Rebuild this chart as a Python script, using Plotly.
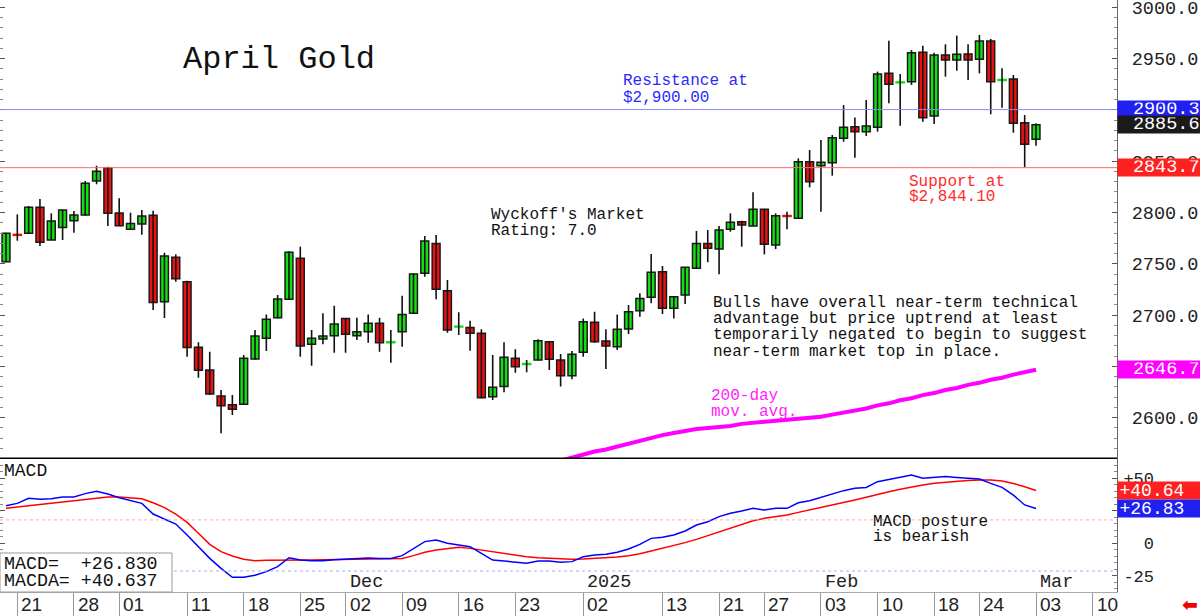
import plotly.graph_objects as go

# ---------------- data ----------------
# daily candles, Oct 18 2024 .. Mar 3 2025 (trading days, index 0..91)
open_ = [2752.1, 2778.4, 2779.7, 2805.0, 2773.2, 2785.5, 2792.0, 2797.6, 2830.7, 2843.7,
         2799.5, 2783.6, 2788.8, 2797.2, 2713.1, 2756.3, 2732.6, 2668.6, 2646.5, 2621.2,
         2612.7, 2613.0, 2657.2, 2677.4, 2697.5, 2715.4, 2755.3, 2671.5, 2676.7, 2679.9,
         2696.8, 2679.9, 2683.8, 2692.0, 2673.1, 2683.8, 2701.7, 2740.7, 2769.9, 2723.8,
         2688.4, 2688.0, 2682.2, 2620.5, 2630.3, 2657.9, 2652.0, 2656.2, 2674.1, 2656.2,
         2641.0, 2663.7, 2693.0, 2674.8, 2669.2, 2686.5, 2704.3, 2717.3, 2742.3, 2706.6,
         2719.6, 2745.6, 2769.9, 2764.4, 2783.6, 2791.1, 2786.8, 2803.1, 2768.3, 2796.9,
         2794.3, 2849.5, 2845.6, 2848.5, 2872.3, 2883.6, 2878.8, 2883.0, 2935.6, 2926.5,
         2927.5, 2956.1, 2894.0, 2953.5, 2948.6, 2954.5, 2949.3, 2967.1, 2928.8, 2930.1,
         2887.5, 2871.3]
high = [2780.3, 2798.2, 2806.3, 2813.2, 2799.2, 2802.6, 2801.5, 2830.7, 2845.6, 2844.7,
        2813.8, 2799.8, 2802.4, 2801.8, 2760.8, 2759.2, 2733.6, 2673.5, 2664.4, 2627.0,
        2622.1, 2661.1, 2685.5, 2700.7, 2719.6, 2762.2, 2766.7, 2685.5, 2701.7, 2709.2,
        2697.0, 2697.5, 2700.7, 2697.5, 2685.5, 2718.9, 2740.7, 2777.1, 2778.1, 2734.2,
        2702.7, 2694.6, 2686.1, 2661.1, 2673.5, 2666.6, 2656.2, 2676.4, 2674.5, 2662.1,
        2665.0, 2696.8, 2703.3, 2686.1, 2700.7, 2709.8, 2721.2, 2759.6, 2747.9, 2718.3,
        2747.0, 2782.0, 2782.9, 2786.8, 2799.2, 2792.0, 2819.7, 2803.5, 2799.2, 2800.8,
        2852.8, 2860.9, 2870.7, 2875.5, 2904.7, 2892.7, 2909.6, 2937.3, 2967.5, 2935.0,
        2958.4, 2962.6, 2955.8, 2963.9, 2972.4, 2963.9, 2973.0, 2969.1, 2940.5, 2934.0,
        2895.0, 2886.9]
low = [2751.4, 2772.5, 2779.0, 2767.4, 2773.0, 2773.2, 2780.3, 2797.0, 2827.5, 2786.8,
       2786.8, 2783.0, 2778.4, 2705.0, 2697.2, 2732.6, 2659.5, 2639.0, 2622.1, 2584.8,
       2602.6, 2612.5, 2656.5, 2665.0, 2696.8, 2715.0, 2659.5, 2650.7, 2671.5, 2663.4,
       2663.4, 2675.7, 2673.1, 2664.4, 2653.6, 2669.2, 2701.0, 2737.5, 2715.4, 2682.9,
       2680.6, 2665.3, 2619.0, 2617.3, 2624.7, 2643.9, 2644.2, 2656.0, 2646.5, 2630.3,
       2637.4, 2659.5, 2673.1, 2647.5, 2666.0, 2681.6, 2698.5, 2711.5, 2701.1, 2696.8,
       2710.8, 2745.0, 2751.4, 2739.7, 2781.3, 2766.7, 2786.5, 2759.2, 2764.4, 2783.6,
       2793.7, 2824.5, 2800.8, 2835.9, 2869.0, 2853.4, 2874.6, 2878.8, 2906.4, 2884.6,
       2924.3, 2888.5, 2886.2, 2932.4, 2938.2, 2929.1, 2935.6, 2895.7, 2902.2, 2877.8,
       2844.1, 2865.1]
close = [2779.7, 2778.0, 2805.0, 2770.9, 2791.7, 2802.4, 2797.6, 2828.4, 2840.1, 2799.2,
         2787.2, 2789.4, 2796.6, 2712.4, 2757.6, 2735.5, 2668.3, 2646.2, 2623.1, 2611.7,
         2608.2, 2657.9, 2679.6, 2695.9, 2715.7, 2761.2, 2669.9, 2677.4, 2679.6, 2691.3,
         2681.3, 2683.8, 2692.0, 2673.1, 2673.8, 2700.7, 2740.1, 2772.2, 2725.1, 2685.5,
         2689.1, 2682.2, 2619.5, 2629.6, 2658.8, 2649.7, 2652.7, 2675.1, 2656.9, 2641.0,
         2661.8, 2693.6, 2674.1, 2669.9, 2686.1, 2703.3, 2716.3, 2741.7, 2706.6, 2717.9,
         2746.6, 2769.9, 2765.1, 2782.9, 2790.4, 2787.8, 2803.1, 2769.0, 2796.9, 2796.3,
         2849.5, 2830.0, 2848.9, 2872.9, 2883.0, 2878.8, 2884.3, 2935.0, 2924.9, 2927.2,
         2955.8, 2892.4, 2953.5, 2948.6, 2954.2, 2948.6, 2967.1, 2927.5, 2929.5, 2886.9,
         2866.4, 2885.6]

# 200-day moving average, visible part (index 49..91)
ma_start = 49
ma200 = [2558, 2561, 2564, 2567, 2569, 2572, 2575, 2578, 2580, 2583,
         2585, 2587, 2589, 2590, 2591, 2592, 2594, 2595, 2596, 2597,
         2598, 2599, 2600, 2601, 2603, 2605, 2607, 2609, 2612, 2614,
         2617, 2619, 2622, 2624, 2627, 2629, 2632, 2634, 2637, 2639,
         2642, 2644, 2646.7]

macd = [28.9, 30.7, 34.6, 33.8, 34.3, 35.6, 35.6, 38.2, 40.0, 37.9,
        35.1, 32.8, 30.7, 22.5, 18.7, 14.8, 6.4, -2.6, -11.6, -19.3,
        -26.2, -26.2, -24.6, -21.8, -18.0, -11.1, -12.9, -13.4, -13.4, -12.6,
        -12.3, -12.1, -11.3, -11.6, -11.6, -9.5, -3.9, 1.3, 2.5, 0.0,
        -1.3, -2.6, -7.7, -12.9, -13.6, -14.6, -15.4, -13.6, -13.6, -14.6,
        -14.1, -10.3, -9.0, -8.5, -6.9, -4.4, -0.8, 3.8, 4.6, 6.4,
        9.5, 14.1, 16.6, 20.5, 23.1, 24.8, 26.9, 25.6, 26.9, 26.9,
        31.2, 32.8, 35.4, 37.9, 40.5, 42.3, 43.0, 47.4, 49.2, 50.7,
        52.5, 50.0, 50.7, 51.3, 50.7, 50.0, 49.5, 46.1, 43.0, 37.1,
        29.5, 26.83]
macda = [26.9, 27.9, 28.9, 29.8, 30.7, 31.8, 32.8, 34.0, 35.1, 35.6,
         35.6, 35.1, 34.3, 31.2, 27.4, 22.5, 16.1, 7.7, -0.8, -6.4,
         -9.8, -12.3, -13.4, -13.1, -12.9, -12.9, -12.8, -12.8, -12.7, -12.6,
         -12.5, -12.4, -12.3, -12.2, -12.1, -11.6, -9.5, -6.9, -5.2, -3.9,
         -3.1, -3.9, -5.2, -6.4, -7.7, -9.0, -10.3, -11.1, -11.6, -12.1,
         -12.3, -12.1, -11.6, -11.1, -10.5, -9.5, -8.0, -5.9, -3.9, -1.8,
         0.5, 3.0, 5.9, 9.0, 12.0, 14.8, 17.4, 19.2, 20.5, 21.7,
         23.8, 25.6, 27.4, 29.5, 31.5, 33.3, 35.4, 37.7, 39.7, 41.5,
         43.3, 44.8, 46.1, 46.9, 47.9, 48.4, 48.7, 48.7, 47.9, 46.0,
         43.5, 40.64]

resistance = 2900.3
support = 2843.7
last_price = 2885.6
macd_upper = 18.0
macd_lower = -21.3

tick_idx = [1, 6, 10, 16, 21, 26, 30, 35, 40, 45, 51, 58, 63, 67, 72, 77, 82, 86, 91, 96]
tick_lab = ["21", "28", "01", "11", "18", "25", "02", "09", "16", "23",
            "02", "13", "21", "27", "03", "10", "18", "24", "03", "10"]
month_idx = [30, 51, 72, 91]
month_lab = ["Dec", "2025", "Feb", "Mar"]

price_ticks = [2600, 2650, 2700, 2750, 2800, 2850, 2900, 2950, 3000]
macd_ticks = [-25, 0, 25, 50]
macd_ticktext = ["-25", "\u00a0\u00a00", "+25", "+50"]

# ---------------- layout constants ----------------
W, H = 1200, 616
ML, MR, MT, MB = 0, 83, 0, 24
PW, PH = W - ML - MR, H - MT - MB
SPLIT = (PH - 458.3) / PH          # macd pane fraction
MONO = "Liberation Mono, DejaVu Sans Mono, monospace"
GREEN, RED = "#12e012", "#ee1111"

n = len(open_)
idx = list(range(n))

fig = go.Figure()

# wicks
wx, wy = [], []
for i in idx:
    wx += [i, i, None]
    wy += [low[i], high[i], None]
fig.add_trace(go.Scatter(x=wx, y=wy, mode="lines", line=dict(color="#111111", width=1.6),
                         hoverinfo="skip", showlegend=False, xaxis="x", yaxis="y"))

# bodies
is_doji = [abs(close[i] - open_[i]) < 1.5 for i in idx]
for up, col in ((True, GREEN), (False, RED)):
    sel = [i for i in idx if not is_doji[i] and ((close[i] > open_[i]) == up)]
    fig.add_trace(go.Bar(
        x=sel, y=[abs(close[i] - open_[i]) for i in sel],
        base=[min(open_[i], close[i]) for i in sel], width=0.7,
        marker=dict(color=col, line=dict(color="#1a1a1a", width=1.5)),
        hoverinfo="skip", showlegend=False, xaxis="x", yaxis="y"))
dj = [i for i in idx if is_doji[i]]
fig.add_trace(go.Bar(
    x=dj, y=[2.4 for _ in dj], base=[(open_[i] + close[i]) / 2 - 1.2 for i in dj], width=0.85,
    marker=dict(color=[GREEN if close[i] >= open_[i] else RED for i in dj], line=dict(width=0)),
    hoverinfo="skip", showlegend=False, xaxis="x", yaxis="y"))

# 200-day MA
fig.add_trace(go.Scatter(x=list(range(ma_start, ma_start + len(ma200))), y=ma200, mode="lines",
                         line=dict(color="#ff00ff", width=4), hoverinfo="skip",
                         showlegend=False, xaxis="x", yaxis="y"))

# MACD
fig.add_trace(go.Scatter(x=idx, y=macda, mode="lines", line=dict(color="#ff0000", width=1.5),
                         hoverinfo="skip", showlegend=False, xaxis="x", yaxis="y2"))
fig.add_trace(go.Scatter(x=idx, y=macd, mode="lines", line=dict(color="#0000ff", width=1.5),
                         hoverinfo="skip", showlegend=False, xaxis="x", yaxis="y2"))

px_per_idx = 1030 / 91.0
xmin = -6 / px_per_idx
xmax = xmin + PW / px_per_idx
p_per_px = 1 / 1.026
ytop = 3000 + 7.3 * p_per_px
ybot = 3000 - (458.3 - 7.3) * p_per_px
m_top = (543.3 - 458.3) / 1.3
m_bot = -(PH - 543.3) / 1.3

fig.update_layout(
    width=W, height=H, margin=dict(l=ML, r=MR, t=MT, b=MB),
    paper_bgcolor="white", plot_bgcolor="white", barmode="overlay", showlegend=False,
    xaxis=dict(range=[xmin, xmax], anchor="y2", tickmode="array", tickvals=tick_idx,
               showticklabels=False, ticks="outside", ticklen=23, tickcolor="#999999",
               showline=True, linecolor="#aaaaaa", linewidth=1, showgrid=False, zeroline=False),
    yaxis=dict(domain=[SPLIT, 1], range=[ybot, ytop], side="right", anchor="x",
               tickmode="array", tickvals=price_ticks, ticktext=[f"{v:.1f}" for v in price_ticks],
               ticks="inside", ticklen=5, tickcolor="#555555", showline=True, linecolor="#666666",
               mirror="ticks", showgrid=False, zeroline=False, ticklabelstandoff=10,
               ticklabeloverflow="allow",
               tickfont=dict(family=MONO, size=18.5, color="#222222"),
               minor=dict(tickmode="linear", tick0=2600, dtick=10, ticks="inside", ticklen=3,
                          tickcolor="#888888")),
    yaxis2=dict(domain=[0, SPLIT], range=[m_bot, m_top], side="right", anchor="x",
                tickmode="array", tickvals=macd_ticks, ticktext=macd_ticktext,
                ticks="inside", ticklen=5, tickcolor="#555555", showline=True, linecolor="#666666",
                mirror="ticks", showgrid=False, zeroline=False, ticklabelstandoff=2,
                ticklabeloverflow="allow",
                tickfont=dict(family=MONO, size=17, color="#222222"),
                minor=dict(tickmode="linear", tick0=0, dtick=5, ticks="inside", ticklen=3,
                           tickcolor="#888888")),
)

shapes = [
    dict(type="line", xref="paper", yref="y", x0=0, x1=1, y0=resistance, y1=resistance,
         line=dict(color="#8a8aff", width=1)),
    dict(type="line", xref="paper", yref="y", x0=0, x1=1, y0=support, y1=support,
         line=dict(color="#ff6a6a", width=1)),
    dict(type="line", xref="paper", yref="y2", x0=0, x1=1, y0=macd_upper, y1=macd_upper,
         line=dict(color="#ffaaaa", width=1, dash="dot")),
    dict(type="line", xref="paper", yref="y2", x0=0, x1=1, y0=macd_lower, y1=macd_lower,
         line=dict(color="#aaaaff", width=1, dash="dot")),
    dict(type="line", xref="paper", yref="paper", x0=0, x1=1, y0=SPLIT, y1=SPLIT,
         line=dict(color="#000000", width=1.5)),
    dict(type="rect", xref="paper", yref="paper", x0=0, x1=172 / PW, y0=0, y1=(PH - 553) / PH,
         fillcolor="white", line=dict(color="#999999", width=1), layer="above"),
]
fig.update_layout(shapes=shapes)


def txt(text, px, py, size, color, anchor="left", family=MONO):
    return dict(text=text, x=px / PW, y=(PH - py) / PH, xref="paper", yref="paper",
                xanchor=anchor, yanchor="middle", showarrow=False,
                font=dict(family=family, size=size, color=color))


anns = [
    txt("April Gold", 181, 60, 32, "#111111"),
    txt("Resistance at", 621, 81, 16, "#2a2aff"),
    txt("$2,900.00", 621, 97.5, 16, "#2a2aff"),
    txt("Wyckoff's Market", 489, 215, 16, "#111111"),
    txt("Rating: 7.0", 489, 231.5, 16, "#111111"),
    txt("Bulls have overall near-term technical", 711, 303, 16, "#111111"),
    txt("advantage but price uptrend at least", 711, 319, 16, "#111111"),
    txt("temporarily negated to begin to suggest", 711, 335, 16, "#111111"),
    txt("near-term market top in place.", 711, 351.5, 16, "#111111"),
    txt("200-day", 709, 396, 16, "#ff22ff"),
    txt("mov. avg.", 709, 411.7, 16, "#ff22ff"),
    txt("Support at", 907, 181.7, 16, "#ff2a2a"),
    txt("$2,844.10", 907, 197.3, 16, "#ff2a2a"),
    txt("MACD posture", 871, 521.7, 16, "#111111"),
    txt("is bearish", 871, 536.7, 16, "#111111"),
    txt("MACD", 2, 470.5, 18, "#111111"),
    txt("MACD=\u00a0\u00a0+26.830", 2, 563.5, 18.3, "#111111"),
    txt("MACDA=\u00a0+40.637", 2, 580.5, 18.3, "#111111"),
    txt("<b>\u2b05</b>", 1190, 604, 19, "#ee0000", anchor="center", family="DejaVu Sans"),
]

# date labels and month labels
for i, lab in zip(tick_idx, tick_lab):
    anns.append(dict(text=lab, x=i, xref="x", y=(PH - 604) / PH, yref="paper", xanchor="left",
                     yanchor="middle", xshift=2, showarrow=False,
                     font=dict(family="Liberation Sans, Arial", size=19, color="#222222")))
for i, lab in zip(month_idx, month_lab):
    anns.append(dict(text=lab, x=i, xref="x", y=(PH - 582.5) / PH, yref="paper", xanchor="left",
                     yanchor="middle", xshift=2, showarrow=False,
                     font=dict(family=MONO, size=18.5, color="#222222")))


def valbox(text, y, yref, bg, align, size):
    return dict(text=text, x=1, xref="paper", xanchor="left", y=y, yref=yref, yanchor="middle",
                showarrow=False, bgcolor=bg, width=80, height=14, borderpad=1.5, align=align,
                font=dict(family=MONO, size=size, color="white"))


anns += [
    valbox(f"{resistance:.1f}", resistance, "y", "#2020f0", "right", 18.5),
    valbox(f"{last_price:.1f}", last_price, "y", "#1a1a1a", "right", 18.5),
    valbox(f"{support:.1f}", support, "y", "#ff2020", "right", 18.5),
    valbox(f"{ma200[-1]:.1f}", ma200[-1], "y", "#ff00ff", "right", 18.5),
    valbox(f"+{macda[-1]:.2f}", macda[-1], "y2", "#ff2020", "left", 18),
    valbox(f"+{macd[-1]:.2f}", macd[-1], "y2", "#2020f0", "left", 18),
]
fig.update_layout(annotations=anns)

fig.write_html("out.html")
